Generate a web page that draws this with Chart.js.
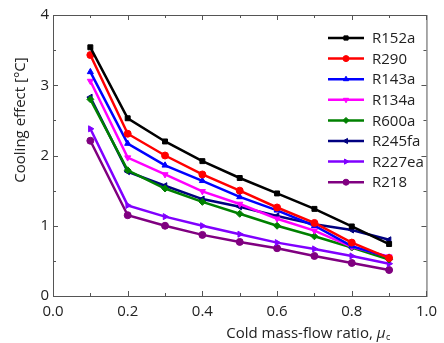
<!DOCTYPE html>
<html>
<head>
<meta charset="utf-8">
<script src="https://cdn.jsdelivr.net/npm/chart.js@4.4.1/dist/chart.umd.min.js"></script>
<style>
  html, body { margin: 0; padding: 0; background: #fff; }
  #wrap { width: 444px; height: 343px; }
</style>
</head>
<body>
<div id="wrap"><canvas id="coolingChart" width="444" height="343"></canvas></div>
<script>
// Data
const ratio = [0.1, 0.2, 0.3, 0.4, 0.5, 0.6, 0.7, 0.8, 0.9];
const r152a = [3.54, 2.53, 2.20, 1.92, 1.68, 1.46, 1.24, 0.99, 0.74];
const r290 = [3.43, 2.31, 2.00, 1.73, 1.50, 1.26, 1.04, 0.76, 0.54];
const r143a = [3.19, 2.17, 1.86, 1.64, 1.41, 1.22, 1.00, 0.71, 0.55];
const r134a = [3.06, 1.97, 1.73, 1.49, 1.31, 1.10, 0.93, 0.70, 0.56];
const r600a = [2.80, 1.79, 1.53, 1.34, 1.17, 1.00, 0.85, 0.69, 0.52];
const r245fa = [2.83, 1.77, 1.57, 1.38, 1.27, 1.14, 1.02, 0.94, 0.80];
const r227ea = [2.38, 1.29, 1.13, 1.00, 0.88, 0.76, 0.67, 0.57, 0.46];
const r218 = [2.21, 1.15, 1.00, 0.87, 0.77, 0.68, 0.57, 0.47, 0.37];

const xTicks = [0.0, 0.2, 0.4, 0.6, 0.8, 1.0];
const yTicks = [0, 1, 2, 3, 4];

const FONT = '"Open Sans", "Noto Sans", sans-serif';

function series(label, values, color, style, rot) {
    return {
        label: label,
        data: ratio.map((x, i) => ({ x: x, y: values[i] })),
        borderColor: color,
        backgroundColor: color,
        pointBackgroundColor: color,
        pointBorderColor: color,
        borderWidth: 2.5,
        pointStyle: style,
        pointRotation: rot || 0,
        pointRadius: 3.5,
        pointBorderWidth: 1,
        fill: false,
        tension: 0
    };
}

const datasets = [
    series('R152a', r152a, '#000000', 'rect'),
    series('R290', r290, '#ff0000', 'circle'),
    series('R143a', r143a, '#0000ff', 'triangle'),
    series('R134a', r134a, '#ff00ff', 'triangle', 180),
    series('R600a', r600a, '#008000', 'rectRot'),
    series('R245fa', r245fa, '#000080', 'triangle', -90),
    series('R227ea', r227ea, '#8000ff', 'triangle', 90),
    series('R218', r218, '#800080', 'circle')
];

// box, inward ticks, axis titles and legend
const framePlugin = {
    id: 'frame',
    afterDraw(chart) {
        const ctx = chart.ctx;
        const a = chart.chartArea;
        const xs = chart.scales.x, ys = chart.scales.y;
        ctx.save();
        ctx.strokeStyle = '#555';
        ctx.lineWidth = 1;
        ctx.strokeRect(a.left + 0.5, a.top + 0.5, a.right - a.left, a.bottom - a.top);
        ctx.beginPath();
        for (let v = 0.1; v < 1.0; v += 0.1) {
            const px = Math.round(xs.getPixelForValue(v)) + 0.5;
            const major = Math.round(v * 10) % 2 === 0;
            const len = major ? 5 : 3;
            ctx.moveTo(px, a.bottom); ctx.lineTo(px, a.bottom - len);
            ctx.moveTo(px, a.top); ctx.lineTo(px, a.top + len);
        }
        for (let v = 0.5; v < 4; v += 0.5) {
            const py = Math.round(ys.getPixelForValue(v)) + 0.5;
            const len = (v % 1 === 0) ? 5 : 3;
            ctx.moveTo(a.left, py); ctx.lineTo(a.left + len, py);
            ctx.moveTo(a.right, py); ctx.lineTo(a.right - len, py);
        }
        ctx.stroke();

        // x title
        ctx.fillStyle = '#222';
        ctx.textBaseline = 'alphabetic';
        ctx.textAlign = 'left';
        ctx.font = '15px ' + FONT;
        const t1 = 'Cold mass-flow ratio, ';
        const w1 = ctx.measureText(t1).width;
        ctx.font = 'italic 15px ' + FONT;
        const wMu = ctx.measureText('μ').width;
        ctx.font = '9px ' + FONT;
        const wC = ctx.measureText('c').width;
        let x0 = 308 - (w1 + wMu + wC) / 2;
        const base = 338;
        ctx.font = '15px ' + FONT;
        ctx.fillText(t1, x0, base);
        ctx.font = 'italic 15px ' + FONT;
        ctx.fillText('μ', x0 + w1, base);
        ctx.font = '9px ' + FONT;
        ctx.fillText('c', x0 + w1 + wMu + 0.5, base + 2);

        // y title
        ctx.save();
        ctx.translate(21, 120);
        ctx.rotate(-Math.PI / 2);
        ctx.textAlign = 'center';
        ctx.textBaseline = 'middle';
        ctx.font = '15px ' + FONT;
        ctx.fillText('Cooling effect [°C]', 0, 0);
        ctx.restore();

        // legend
        const drawPoint = Chart.helpers && Chart.helpers.drawPoint;
        chart.data.datasets.forEach((ds, i) => {
            const y = 38 + i * 20.6;
            ctx.strokeStyle = ds.borderColor;
            ctx.lineWidth = 2.5;
            ctx.beginPath();
            ctx.moveTo(328, y); ctx.lineTo(364, y);
            ctx.stroke();
            if (drawPoint) {
                ctx.fillStyle = ds.pointBackgroundColor;
                ctx.lineWidth = 1;
                drawPoint(ctx, { pointStyle: ds.pointStyle, rotation: ds.pointRotation, radius: 3, borderWidth: 1 }, 346, y);
            }
            ctx.fillStyle = '#222';
            ctx.font = '15px ' + FONT;
            ctx.textAlign = 'left';
            ctx.textBaseline = 'middle';
            ctx.fillText(ds.label, 372, y + 1);
        });
        ctx.restore();
    }
};

const ctx1 = document.getElementById('coolingChart').getContext('2d');
new Chart(ctx1, {
    type: 'scatter',
    data: { datasets: datasets },
    options: {
        responsive: false,
        animation: false,
        showLine: true,
        layout: { padding: { top: 15, right: 11, left: 0, bottom: 0 } },
        plugins: {
            legend: { display: false },
            tooltip: { enabled: false }
        },
        scales: {
            x: {
                type: 'linear',
                min: 0, max: 1,
                afterFit: s => { s.height = 47; },
                afterBuildTicks: s => { s.ticks = xTicks.map(v => ({ value: v })); },
                grid: { display: false, drawTicks: false },
                border: { display: false },
                ticks: {
                    padding: 7,
                    color: '#222',
                    font: { family: FONT, size: 15 },
                    maxRotation: 0,
                    callback: v => v.toFixed(1)
                }
            },
            y: {
                type: 'linear',
                min: 0, max: 4,
                afterFit: s => { s.width = 53; },
                afterBuildTicks: s => { s.ticks = yTicks.map(v => ({ value: v })); },
                grid: { display: false, drawTicks: false },
                border: { display: false },
                ticks: {
                    padding: 4,
                    color: '#222',
                    font: { family: FONT, size: 15 },
                    callback: v => String(v)
                }
            }
        }
    },
    plugins: [framePlugin]
});
</script>
</body>
</html>
